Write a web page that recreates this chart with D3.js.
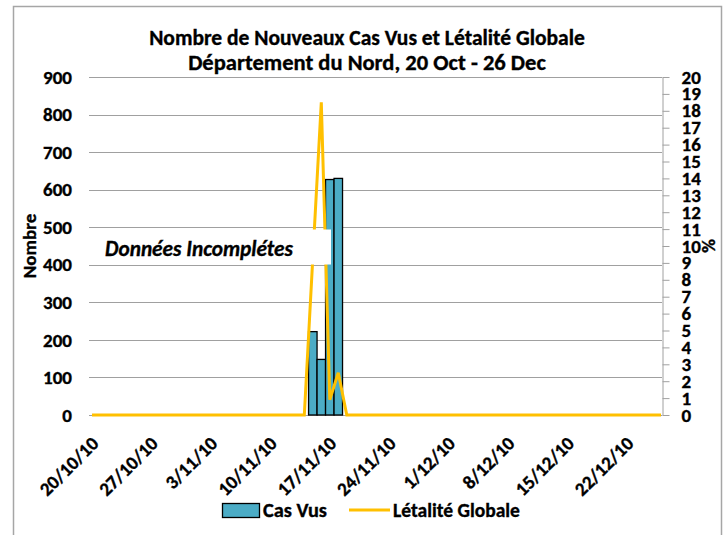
<!DOCTYPE html>
<html>
<head>
<meta charset="utf-8">
<script src="https://cdn.jsdelivr.net/npm/d3@7"></script>
<style>
  body { margin: 0; background: #fff; }
  text { font-family: Carlito, Calibri, Lato, sans-serif; font-weight: bold; fill: #000; }
  .heavy { stroke: #000; stroke-width: 0.35px; }
</style>
</head>
<body>
<div class="chart"></div>
<script>
// daily categories, 20 Oct - 26 Dec 2010
var dates = [
  "20/10/10","21/10/10","22/10/10","23/10/10","24/10/10","25/10/10","26/10/10","27/10/10","28/10/10","29/10/10","30/10/10","31/10/10",
  "1/11/10","2/11/10","3/11/10","4/11/10","5/11/10","6/11/10","7/11/10","8/11/10","9/11/10","10/11/10",
  "11/11/10","12/11/10","13/11/10","14/11/10","15/11/10","16/11/10","17/11/10","18/11/10","19/11/10","20/11/10",
  "21/11/10","22/11/10","23/11/10","24/11/10","25/11/10","26/11/10","27/11/10","28/11/10","29/11/10","30/11/10",
  "1/12/10","2/12/10","3/12/10","4/12/10","5/12/10","6/12/10","7/12/10","8/12/10","9/12/10","10/12/10",
  "11/12/10","12/12/10","13/12/10","14/12/10","15/12/10","16/12/10","17/12/10","18/12/10","19/12/10","20/12/10",
  "21/12/10","22/12/10","23/12/10","24/12/10","25/12/10","26/12/10"
];

// new cases seen (bars, left axis)
var casVus = [
  0,0,0,0,0,0,0,0,0,0,0,0,
  0,0,0,0,0,0,0,0,0,0,
  0,0,0,0,222,148,627,630,0,0,
  0,0,0,0,0,0,0,0,0,0,
  0,0,0,0,0,0,0,0,0,0,
  0,0,0,0,0,0,0,0,0,0,
  0,0,0,0,0,0
];

// global lethality % (line, right axis)
var letalite = [
  0,0,0,0,0,0,0,0,0,0,0,0,
  0,0,0,0,0,0,0,0,0,0,
  0,0,0,0,9.3,18.5,0.9,2.5,0,0,
  0,0,0,0,0,0,0,0,0,0,
  0,0,0,0,0,0,0,0,0,0,
  0,0,0,0,0,0,0,0,0,0,
  0,0,0,0,0,0
];

var xTickLabels = ["20/10/10","27/10/10","3/11/10","10/11/10","17/11/10","24/11/10","1/12/10","8/12/10","15/12/10","22/12/10"];
var leftTicks = [0,100,200,300,400,500,600,700,800,900];
var rightTicks = d3.range(0, 21);

var svgWidth = 728;
var svgHeight = 535;

var svg = d3.select(".chart")
  .append("svg")
  .attr("width", svgWidth)
  .attr("height", svgHeight);

// outer frame
svg.append("rect")
  .attr("x", 13.5)
  .attr("y", 6.5)
  .attr("width", 708)
  .attr("height", 540)
  .attr("fill", "none")
  .attr("stroke", "#a6a6a6")
  .attr("stroke-width", 1.5);

// shrink font until text fits a given width
function fitWidth(sel, w) {
  var size = parseFloat(sel.attr("font-size"));
  sel.attr("font-size", size * w / sel.node().getComputedTextLength());
}

// scales
var xScale = d3.scalePoint()
  .domain(dates)
  .range([92, 661]);

var yLeft = d3.scaleLinear()
  .domain([0, 900])
  .range([415, 77]);

var yRight = d3.scaleLinear()
  .domain([0, 20])
  .range([415, 77]);

// gridlines + left labels
var grid = svg.append("g");
grid.selectAll("line")
  .data(leftTicks)
  .enter()
  .append("line")
  .attr("x1", 89)
  .attr("x2", 662)
  .attr("y1", d => Math.round(yLeft(d)) + 0.5)
  .attr("y2", d => Math.round(yLeft(d)) + 0.5)
  .attr("stroke", "#a0a0a0")
  .attr("stroke-width", 1);

grid.selectAll("text")
  .data(leftTicks)
  .enter()
  .append("text")
  .attr("class", "heavy")
  .attr("x", 72)
  .attr("y", d => yLeft(d))
  .attr("dy", "0.35em")
  .attr("text-anchor", "end")
  .attr("font-size", 19)
  .text(d => d);

// right axis
var rightAxis = d3.axisRight(yRight)
  .tickValues(rightTicks)
  .tickSize(7)
  .tickSizeOuter(0)
  .tickPadding(12);

var ra = svg.append("g")
  .attr("transform", "translate(662.5,0)")
  .call(rightAxis);
ra.select(".domain").attr("stroke", "#a0a0a0");
ra.selectAll(".tick line").attr("stroke", "#a0a0a0");
ra.selectAll(".tick text")
  .attr("class", "heavy")
  .attr("font-size", 19)
  .attr("font-family", "Carlito, Calibri, Lato, sans-serif")
  .attr("font-weight", "bold")
  .attr("fill", "#000");

// bars
var step = xScale.step();
svg.append("g")
  .selectAll("rect")
  .data(dates.map((d, i) => ({ date: d, v: casVus[i] })).filter(d => d.v > 0))
  .enter()
  .append("rect")
  .attr("x", d => xScale(d.date) - step / 2)
  .attr("y", d => yLeft(d.v))
  .attr("width", step)
  .attr("height", d => yLeft(0) - yLeft(d.v))
  .attr("fill", "#4bacc6")
  .attr("stroke", "#000")
  .attr("stroke-width", 1.3);

// lethality line
var line = d3.line()
  .x((d, i) => xScale(dates[i]))
  .y(d => yRight(d));

svg.append("path")
  .datum(letalite)
  .attr("d", line)
  .attr("fill", "none")
  .attr("stroke", "#ffc000")
  .attr("stroke-width", 3)
  .attr("stroke-linejoin", "miter");

// "incomplete data" box
svg.append("rect")
  .attr("x", 97)
  .attr("y", 229.5)
  .attr("width", 234)
  .attr("height", 35)
  .attr("fill", "#fff");

var note = svg.append("text")
  .attr("class", "heavy")
  .attr("x", 105)
  .attr("y", 249)
  .attr("dy", "0.35em")
  .attr("font-size", 17)
  .attr("font-style", "italic")
  .text("Données Incomplétes");
fitWidth(note, 188);

// x tick labels
svg.append("g")
  .selectAll("text")
  .data(xTickLabels)
  .enter()
  .append("text")
  .attr("class", "heavy")
  .attr("transform", d => `translate(${xScale(d) + 3}, 440) rotate(-45)`)
  .attr("dy", "0.35em")
  .attr("text-anchor", "end")
  .attr("font-size", 19)
  .text(d => d);

// axis titles
svg.append("text")
  .attr("class", "heavy")
  .attr("transform", "translate(29, 246) rotate(-90)")
  .attr("dy", "0.35em")
  .attr("text-anchor", "middle")
  .attr("font-size", 19)
  .text("Nombre");

svg.append("text")
  .attr("class", "heavy")
  .attr("transform", "translate(709, 246) rotate(90)")
  .attr("dy", "0.35em")
  .attr("text-anchor", "middle")
  .attr("font-size", 19)
  .text("%");

// title
var t1 = svg.append("text")
  .attr("class", "heavy")
  .attr("x", 367)
  .attr("y", 37)
  .attr("dy", "0.35em")
  .attr("text-anchor", "middle")
  .attr("font-size", 18)
  .text("Nombre de Nouveaux Cas Vus et Létalité Globale");
fitWidth(t1, 436);

var t2 = svg.append("text")
  .attr("class", "heavy")
  .attr("x", 367)
  .attr("y", 62)
  .attr("dy", "0.35em")
  .attr("text-anchor", "middle")
  .attr("font-size", 18)
  .text("Département du Nord, 20 Oct - 26 Dec");
fitWidth(t2, 358);

// legend
var legend = svg.append("g");
legend.append("rect")
  .attr("x", 222.5)
  .attr("y", 503.5)
  .attr("width", 37)
  .attr("height", 14)
  .attr("fill", "#4bacc6")
  .attr("stroke", "#000")
  .attr("stroke-width", 1.3);

var l1 = legend.append("text")
  .attr("class", "heavy")
  .attr("x", 263)
  .attr("y", 510)
  .attr("dy", "0.35em")
  .attr("font-size", 16)
  .text("Cas Vus");
fitWidth(l1, 64);

legend.append("line")
  .attr("x1", 349)
  .attr("x2", 390)
  .attr("y1", 510)
  .attr("y2", 510)
  .attr("stroke", "#ffc000")
  .attr("stroke-width", 3);

var l2 = legend.append("text")
  .attr("class", "heavy")
  .attr("x", 393)
  .attr("y", 510)
  .attr("dy", "0.35em")
  .attr("font-size", 16)
  .text("Létalité Globale");
fitWidth(l2, 127);
</script>
</body>
</html>
